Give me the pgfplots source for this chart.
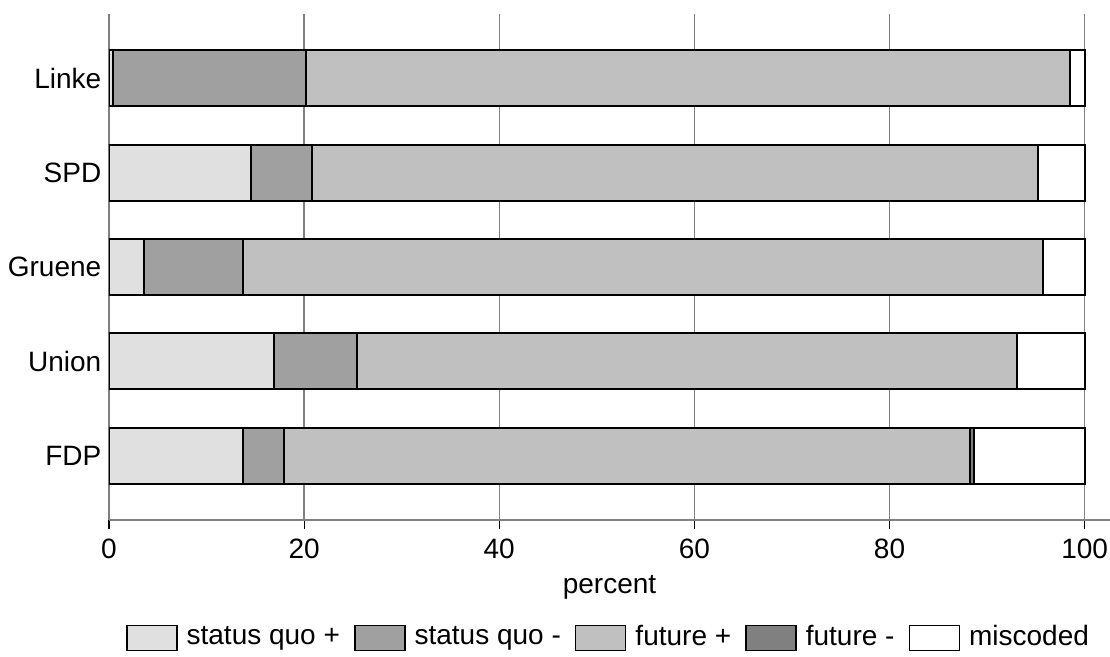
\documentclass[border=0pt]{standalone}
\usepackage{pgfplots}
\pgfplotsset{compat=1.18}
\usepackage{fontspec}
\setmainfont{Liberation Sans}
\definecolor{sqp}{HTML}{E0E0E0}
\definecolor{sqm}{HTML}{A0A0A0}
\definecolor{fp}{HTML}{C0C0C0}
\definecolor{fm}{HTML}{808080}
\definecolor{gridc}{HTML}{808080}
\begin{document}
\fontsize{14}{16.5}\selectfont
\begin{tikzpicture}
\begin{axis}[
  at={(0,0)}, anchor=south west,
  scale only axis,
  width=500.5pt, height=253pt,
  xbar stacked, bar width=28pt,
  xmin=0, xmax=102.6,
  ymin=-0.68, ymax=4.68,
  axis x line*=bottom, axis y line*=left,
  axis line style={gridc, line width=0.8pt},
  xtick={0,20,40,60,80,100},
  ytick={0,1,2,3,4},
  yticklabels={FDP,Union,Gruene,SPD,Linke},
  x tick style={black, line width=0.6pt},
  xtick align=outside,
  major tick length=4.5pt,
  y tick style={draw=none},
  xmajorgrids, grid style={gridc, line width=0.7pt},
  ticklabel style={font=\fontsize{14}{16.5}\selectfont},
  /pgf/number format/assume math mode=true,
  xticklabel style={yshift=0pt},
  yticklabel style={xshift=1pt},
  xlabel={percent},
  xlabel style={font=\fontsize{14}{16.5}\selectfont, yshift=1pt},
  legend columns=5,
  legend style={draw=none, at={(0.5,-0.233)}, anchor=center,
    font=\fontsize{14}{16.5}\selectfont,
    /tikz/every even column/.append style={column sep=5pt},
    /tikz/every odd column/.append style={column sep=2.5pt}},
  legend image code/.code={\draw[#1, line width=0.8pt] (0pt,-6.25pt) rectangle (25pt,6.25pt);},
  every axis plot/.append style={draw=black, line width=1pt},
]
\addplot[fill=sqp] coordinates {(13.7,0) (16.9,1) (3.6,2) (14.6,3) (0.4,4)};
\addplot[fill=sqm] coordinates {(4.2,0) (8.5,1) (10.1,2) (6.2,3) (19.8,4)};
\addplot[fill=fp] coordinates {(70.3,0) (67.7,1) (82.0,2) (74.4,3) (78.3,4)};
\addplot[fill=fm] coordinates {(0.5,0) (0,1) (0,2) (0,3) (0,4)};
\addplot[fill=white] coordinates {(11.3,0) (6.9,1) (4.3,2) (4.8,3) (1.5,4)};
\legend{status quo +, status quo -, future +, future -, miscoded}
\end{axis}
\pgfresetboundingbox
\path[use as bounding box] (-54.5pt,-68.5pt) rectangle (500.5pt,260pt);
\end{tikzpicture}
\end{document}
